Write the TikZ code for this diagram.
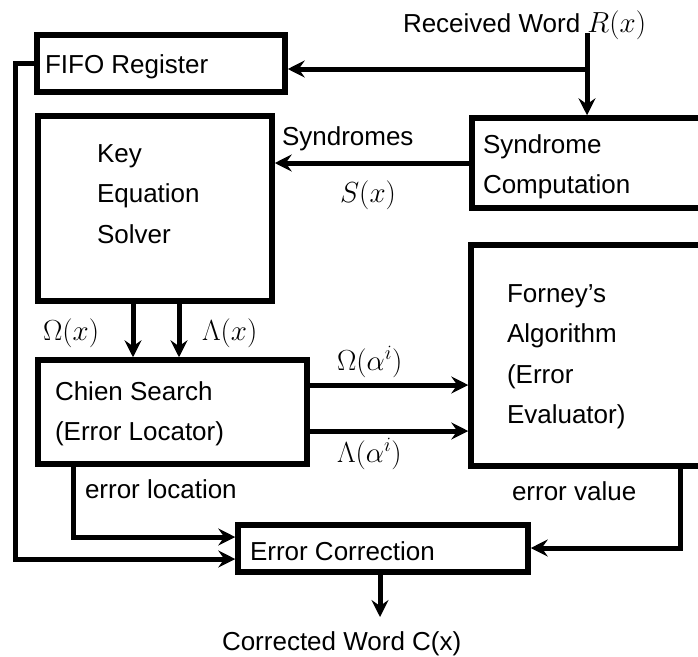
\RequirePackage{fix-cm}
\documentclass[tikz,border=0pt]{standalone}
\usepackage{fontspec}
\setmainfont{Liberation Sans}
\usetikzlibrary{arrows.meta}
% math symbols are set a little larger than the surrounding text
\newcommand{\bigmath}[1]{{\fontsize{29}{29}\selectfont$#1$}}
\begin{document}
\begin{tikzpicture}[x=1pt,y=-1pt,
  box/.style={draw, line width=5.5pt, inner sep=0pt, outer sep=2.75pt},
  wire/.style={line width=5pt},
  flow/.style={wire, -{Stealth[length=17pt,width=17pt,inset=6pt]}},
  txt/.style={font=\fontsize{26}{40.5}\selectfont, inner sep=0pt, outer sep=0pt, align=left},
]
\useasboundingbox (0,0) rectangle (698,656);
\clip (0,0) rectangle (698,656);

% blocks of the decoder
\node[box, minimum width=248pt, minimum height=57pt]  (fifo)   at (161,63.5)    {};
\node[box, minimum width=234pt, minimum height=185pt] (kes)    at (155,208.5)   {};
\node[box, minimum width=258pt, minimum height=90pt]  (synd)   at (601,163)     {};
\node[box, minimum width=269pt, minimum height=104pt] (chien)  at (172.5,412)   {};
\node[box, minimum width=259pt, minimum height=221pt] (forney) at (600.5,355.5) {};
\node[box, minimum width=290pt, minimum height=47pt]  (ec)     at (383,548.5)   {};

% block captions
\node[txt, anchor=base west]  (fifot)   at (45,73)     {FIFO Register};
\node[txt, anchor=north west] (kest)    at (97,144.5)  {Key\\Equation\\Solver};
\node[txt, anchor=north west] (syndt)   at (483,134.5) {Syndrome\\Computation};
\node[txt, anchor=north west] (chient)  at (55,381.5)  {Chien Search\\(Error Locator)};
\node[txt, anchor=north west] (forneyt) at (507,284.5) {Forney's\\Algorithm\\(Error\\Evaluator)};
\node[txt, anchor=base west]  (ect)     at (250,560)   {Error Correction};

% signal labels
\node[txt, anchor=base west] (rin)   at (403,32)  {Received Word \bigmath{R(x)}};
\node[txt, anchor=base west] (synl)  at (282,145) {Syndromes};
\node[txt, anchor=base]      (sxl)   at (368,202) {\bigmath{S(x)}};
\node[txt, anchor=base west] (oml)   at (43,340)  {\bigmath{\Omega(x)}};
\node[txt, anchor=base west] (lal)   at (202,340) {\bigmath{\Lambda(x)}};
\node[txt, anchor=base west] (omal)  at (337,370) {\bigmath{\Omega(\alpha^i)}};
\node[txt, anchor=base west] (lamal) at (337,462) {\bigmath{\Lambda(\alpha^i)}};
\node[txt, anchor=base west] (locl)  at (85,498)  {error location};
\node[txt, anchor=base west] (vall)  at (512,500) {error value};
\node[txt, anchor=base west] (outl)  at (222,650) {Corrected Word C(x)};

% routing points
\coordinate (rtop) at (587,33);
\coordinate (jn)   at (587,69);
\coordinate (om)   at (133,0);
\coordinate (la)   at (179,0);
\coordinate (oma)  at (0,385);
\coordinate (laa)  at (0,431);
\coordinate (elx)  at (73,537);
\coordinate (fb)   at (15,559);
\coordinate (ev)   at (680,548);
\coordinate (out)  at (380,617);

% connectors
\draw[flow] (rtop) -- (rtop |- synd.north);
\draw[flow] (jn) -- (jn -| fifo.east);
\draw[flow] (synd.west) -- (synd.west -| kes.east);
\draw[flow] (kes.south -| om) -- (chien.north -| om);
\draw[flow] (kes.south -| la) -- (chien.north -| la);
\draw[flow] (chien.east |- oma) -- (forney.west |- oma);
\draw[flow] (chien.east |- laa) -- (forney.west |- laa);
\draw[flow] (chien.south -| elx) |- (ec.west |- elx);
\draw[flow] (fifo.west) -| (fb) -- (ec.west |- fb);
\draw[flow] (forney.south -| ev) |- (ec.east |- ev);
\draw[flow] (ec.south -| out) -- (out);
\end{tikzpicture}
\end{document}
